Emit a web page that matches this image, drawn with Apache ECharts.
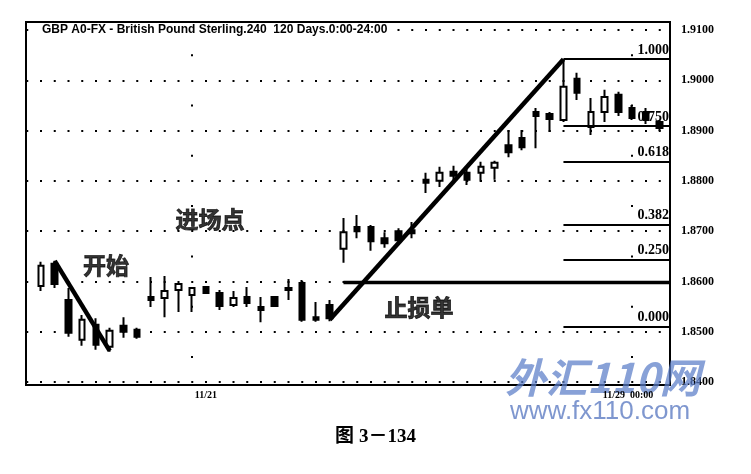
<!DOCTYPE html>
<html><head><meta charset="utf-8">
<script src="https://cdn.jsdelivr.net/npm/echarts@6/dist/echarts.min.js"></script>
<style>html,body{margin:0;padding:0;background:#fff}#c{width:751px;height:474px}</style>
</head><body><div id="c"></div>
<script>
// ---- data (4-hour candles, index 0..45) ----
const opens  = [1.8591,1.8635,1.8563,1.8484,1.8514,1.8470,1.8512,1.8504,1.8569,1.8567,
                1.8583,1.8573,1.8589,1.8577,1.8553,1.8569,1.8549,1.8569,1.8587,1.8597,
                1.8529,1.8553,1.8665,1.8708,1.8708,1.8686,1.8700,1.8702,1.8802,1.8800,
                1.8818,1.8816,1.8816,1.8826,1.8871,1.8885,1.8937,1.8933,1.8921,1.9003,
                1.8907,1.8937,1.8971,1.8945,1.8937,1.8917];
const closes = [1.8631,1.8595,1.8498,1.8524,1.8474,1.8502,1.8500,1.8490,1.8563,1.8581,
                1.8595,1.8587,1.8577,1.8551,1.8567,1.8557,1.8543,1.8551,1.8583,1.8524,
                1.8524,1.8527,1.8698,1.8700,1.8680,1.8676,1.8682,1.8696,1.8796,1.8816,
                1.8810,1.8802,1.8828,1.8836,1.8857,1.8867,1.8929,1.8923,1.8987,1.8975,
                1.8937,1.8967,1.8937,1.8925,1.8921,1.8905];
const lows   = [1.8581,1.8587,1.8490,1.8472,1.8464,1.8460,1.8488,1.8486,1.8549,1.8529,
                1.8539,1.8539,1.8575,1.8543,1.8549,1.8549,1.8519,1.8549,1.8563,1.8520,
                1.8520,1.8521,1.8637,1.8686,1.8661,1.8667,1.8678,1.8686,1.8776,1.8788,
                1.8798,1.8792,1.8798,1.8802,1.8847,1.8861,1.8865,1.8897,1.8917,1.8961,
                1.8891,1.8917,1.8929,1.8921,1.8913,1.8899];
const highs  = [1.8639,1.8641,1.8587,1.8533,1.8527,1.8508,1.8529,1.8508,1.8609,1.8611,
                1.8597,1.8589,1.8591,1.8583,1.8581,1.8589,1.8569,1.8571,1.8605,1.8603,
                1.8559,1.8563,1.8726,1.8732,1.8712,1.8698,1.8706,1.8718,1.8816,1.8828,
                1.8830,1.8826,1.8838,1.8840,1.8901,1.8901,1.8945,1.8937,1.9042,1.9015,
                1.8965,1.8981,1.8977,1.8951,1.8945,1.8921];

const xTickValues = [12, 42.7];
const xTickLabels = ['11/21', '11/29  00:00'];
const xGridValues = [11, 43];

const fibRatios = [1.000, 0.750, 0.618, 0.382, 0.250, 0.000];
const fibLabels = ['1.000', '0.750', '0.618', '0.382', '0.250', '0.000'];
const fibLow = 1.8510, fibHigh = 1.9042, fibFrom = 38;

const downTrend = [[1, 1.8641], [5, 1.8462]];
const upTrend   = [[21, 1.8524], [38, 1.9042]];
const stopLevel = 1.8598, stopFrom = 22;

const notes = [['开始', 4.73, 1.8633], ['进场点', 12.29, 1.8724], ['止损单', 27.5, 1.8549]];

const titleText = 'GBP A0-FX - British Pound Sterling.240  120 Days.0:00-24:00';
const captionText = '图 3－134';

// ---- build ----
const X_MIN = -1.09, X_MAX = 45.75;
const candleData = opens.map((o, i) => [i, o, closes[i], lows[i], highs[i]]);
const black = '#000';

const chart = echarts.init(document.getElementById('c'), null, {renderer: 'canvas'});
chart.setOption({
  animation: false,
  backgroundColor: '#fff',
  title: [
    {text: titleText, left: 40, top: 23, padding: [1, 2], backgroundColor: '#fff', z: 8,
     textStyle: {fontFamily: 'Liberation Sans', fontWeight: 'bold', fontSize: 12, color: black}},
    {text: captionText, left: 'center', top: 428, padding: 0,
     textStyle: {fontFamily: 'Liberation Serif, Noto Sans CJK SC', fontWeight: 'bold', fontSize: 19, color: black}}
  ],
  grid: [
    {left: 26, right: 81, top: 30, bottom: 92},
    {left: 26, right: 81, top: 22, bottom: 89, show: true, borderColor: black, borderWidth: 2, backgroundColor: 'transparent'}
  ],
  xAxis: [
    {gridIndex: 0, type: 'value', min: X_MIN, max: X_MAX, z: 20,
     axisLine: {show: false}, axisTick: {show: false}, splitLine: {show: false},
     axisLabel: {customValues: xTickValues, margin: 8,
       formatter: v => { const k = xTickValues.findIndex(t => Math.abs(t - v) < 1e-6); return k >= 0 ? xTickLabels[k] : ''; },
       fontFamily: 'Liberation Serif', fontWeight: 'bold', fontSize: 10, color: black}},
    {gridIndex: 1, type: 'value', show: false}
  ],
  yAxis: [
    {gridIndex: 0, type: 'value', min: 1.84, max: 1.91, interval: 0.01, position: 'right',
     axisLine: {show: false}, axisTick: {show: false},
     axisLabel: {margin: 11, formatter: v => v.toFixed(4),
       fontFamily: 'Liberation Serif', fontWeight: 'bold', fontSize: 12, color: black},
     splitLine: {show: true, lineStyle: {color: black, width: 2, type: [2, 11.75], dashOffset: 13.5}}},
    {gridIndex: 1, type: 'value', show: false}
  ],
  series: [
    {type: 'candlestick', xAxisIndex: 0, yAxisIndex: 0, data: candleData, barWidth: 6,
     itemStyle: {color: '#fff', color0: black, borderColor: black, borderColor0: black, borderWidth: 2}},
    {type: 'line', data: downTrend, symbol: 'none', lineStyle: {color: black, width: 4.5}, z: 5},
    {type: 'line', data: upTrend, symbol: 'none', lineStyle: {color: black, width: 4.5}, z: 5},
    {type: 'line', data: [[stopFrom, stopLevel], [X_MAX, stopLevel]], symbol: 'none',
     lineStyle: {color: black, width: 3.5}, z: 4,
     markLine: {symbol: 'none', silent: true,
       lineStyle: {color: black, width: 2, type: 'solid'},
       label: {position: 'insideEndTop', distance: [1, 2], fontFamily: 'Liberation Serif', fontWeight: 'bold', fontSize: 14, color: black},
       data: fibRatios.map((r, i) => {
         const lv = fibLow + r * (fibHigh - fibLow);
         return [{coord: [fibFrom, lv], label: {formatter: fibLabels[i]}}, {coord: [X_MAX, lv]}];
       })}},
    {type: 'line', data: [], symbol: 'none',
     markLine: {symbol: 'none', silent: true, label: {show: false},
       lineStyle: {color: black, width: 2, type: [2, 48.3], dashOffset: 26.3},
       data: xGridValues.map(v => ({xAxis: v}))}},
    {type: 'scatter', symbolSize: 0, z: 6,
     data: notes.map(n => ({name: n[0], value: [n[1], n[2]]})),
     label: {show: true, position: 'inside', formatter: p => p.name,
       fontFamily: 'Noto Sans CJK SC', fontWeight: 'bold', fontSize: 23, color: black,
       textBorderColor: black, textBorderWidth: 0.8}}
  ],
  graphic: [
    {type: 'text', z: 1, left: 505, top: 357,
     style: {text: '外汇110网', font: 'italic bold 41px "Noto Sans CJK SC"', fill: 'rgba(90,125,200,0.72)'}},
    {type: 'text', z: 1, left: 510, top: 399,
     style: {text: 'www.fx110.com', font: '26px "Liberation Sans"', fill: 'rgba(95,125,195,0.8)'}}
  ]
});
</script></body></html>
